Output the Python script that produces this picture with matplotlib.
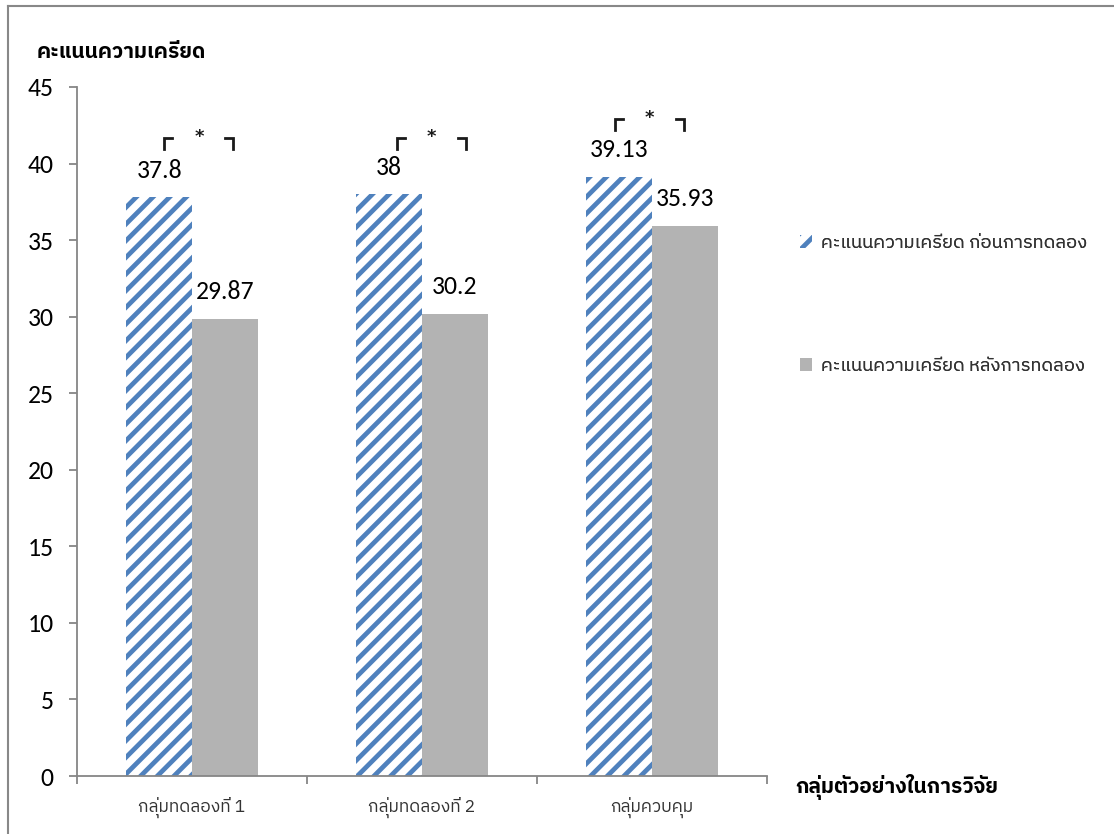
import matplotlib
matplotlib.use("Agg")
import matplotlib.pyplot as plt
import numpy as np
from matplotlib.patches import Patch
from matplotlib.lines import Line2D

# ---- data -------------------------------------------------------------
groups = ["กลุ่มทดลองที่ 1", "กลุ่มทดลองที่ 2", "กลุ่มควบคุม"]
before = [37.8, 38, 39.13]
after = [29.87, 30.2, 35.93]
before_text = ["37.8", "38", "39.13"]
after_text = ["29.87", "30.2", "35.93"]
series_names = ["คะแนนความเครียด ก่อนการทดลอง", "คะแนนความเครียด หลังการทดลอง"]
y_title = "คะแนนความเครียด"
x_title = "กลุ่มตัวอย่างในการวิจัย"
yticks = [0, 5, 10, 15, 20, 25, 30, 35, 40, 45]

# significance markers drawn above each pair (centre x, top y)
sig_x = [0.03, 1.04, 1.99]
sig_y = [41.7, 41.7, 42.9]

# ---- style ------------------------------------------------------------
BLUE = "#4F81BD"
GREY = "#B3B3B3"
AXIS = "#868686"
THAI = ["IBM Plex Sans Thai", "Noto Sans Thai", "DejaVu Sans"]
NUM = ["Carlito", "Lato", "DejaVu Sans"]
plt.rcParams["hatch.linewidth"] = 3.4

W, H = 1114, 834
fig = plt.figure(figsize=(W / 100, H / 100), dpi=100)
ax = fig.add_axes([77 / W, 1 - 776 / H, 690 / W, (776 - 87) / H])

x = np.arange(len(groups))
bw = 0.285
ax.bar(x - bw / 2, before, bw, facecolor="white", edgecolor=BLUE,
       hatch="//", linewidth=0)
ax.bar(x + bw / 2, after, bw, color=GREY, linewidth=0)

for xi, v, t in zip(x - bw / 2, before, before_text):
    ax.annotate(t, (xi, v), xytext=(0, 14), textcoords="offset points",
                ha="center", va="baseline", fontsize=18.5, family=NUM)
for xi, v, t in zip(x + bw / 2, after, after_text):
    ax.annotate(t, (xi, v), xytext=(0, 14), textcoords="offset points",
                ha="center", va="baseline", fontsize=18.5, family=NUM)

# significance brackets: ┌ * ┐
half, arm, drop = 0.15, 0.035, 0.72
for cx, top in zip(sig_x, sig_y):
    l, r = cx - half, cx + half
    ax.plot([l + arm, l, l], [top, top, top - drop], color="#1a1a1a",
            lw=2.0, solid_joinstyle="miter", clip_on=False)
    ax.plot([r - arm, r, r], [top, top, top - drop], color="#1a1a1a",
            lw=2.0, solid_joinstyle="miter", clip_on=False)
    ax.text(cx, top + 0.05, "*", ha="center", va="center", fontsize=13,
            fontweight="bold", family="DejaVu Sans", color="#1a1a1a")

ax.set_xlim(-0.5, len(groups) - 0.5)
ax.set_ylim(0, 45)
ax.set_yticks(yticks)
ax.set_yticklabels([str(t) for t in yticks], fontsize=18.5, family=NUM)
ax.set_xticks(x)
ax.set_xticklabels(groups, fontsize=12.5, family=THAI, color="#333333")
ax.set_xticks(np.arange(-0.5, len(groups)), minor=True)
ax.tick_params(axis="x", which="major", length=0, pad=15)
ax.tick_params(axis="x", which="minor", length=6, width=1.3, color=AXIS)
ax.tick_params(axis="y", length=6, width=1.3, color=AXIS, pad=11)
for s in ("top", "right"):
    ax.spines[s].set_visible(False)
for s in ("left", "bottom"):
    ax.spines[s].set_color(AXIS)
    ax.spines[s].set_linewidth(1.3)

# axis titles
fig.text(37 / W, 1 - 52 / H, y_title, fontsize=15, fontweight="bold",
         family=THAI, ha="left", va="center")
fig.text(795 / W, 1 - 787 / H, x_title, fontsize=15, fontweight="bold",
         family=THAI, ha="left", va="center")

# legend entries
h1 = Patch(facecolor="white", edgecolor=BLUE, hatch="//", linewidth=0)
h2 = Patch(facecolor=GREY, linewidth=0)
for h, name, yc in [(h1, series_names[0], 243), (h2, series_names[1], 366)]:
    lg = fig.legend([h], [name], loc="center left",
                    bbox_to_anchor=(800 / W, 1 - yc / H), frameon=False,
                    prop={"family": THAI, "size": 13.2}, handlelength=0.68,
                    handleheight=0.68, handletextpad=0.45, borderpad=0,
                    borderaxespad=0, labelcolor="#333333")
    fig.add_artist(lg)

# outer frame (left and top edges)
fig.add_artist(Line2D([8 / W, 8 / W], [0, 1 - 6 / H], color="#888888",
                      lw=1.5, transform=fig.transFigure))
fig.add_artist(Line2D([8 / W, 1], [1 - 6 / H, 1 - 6 / H], color="#888888",
                      lw=1.5, transform=fig.transFigure))

fig.savefig("out.png", dpi=100)
